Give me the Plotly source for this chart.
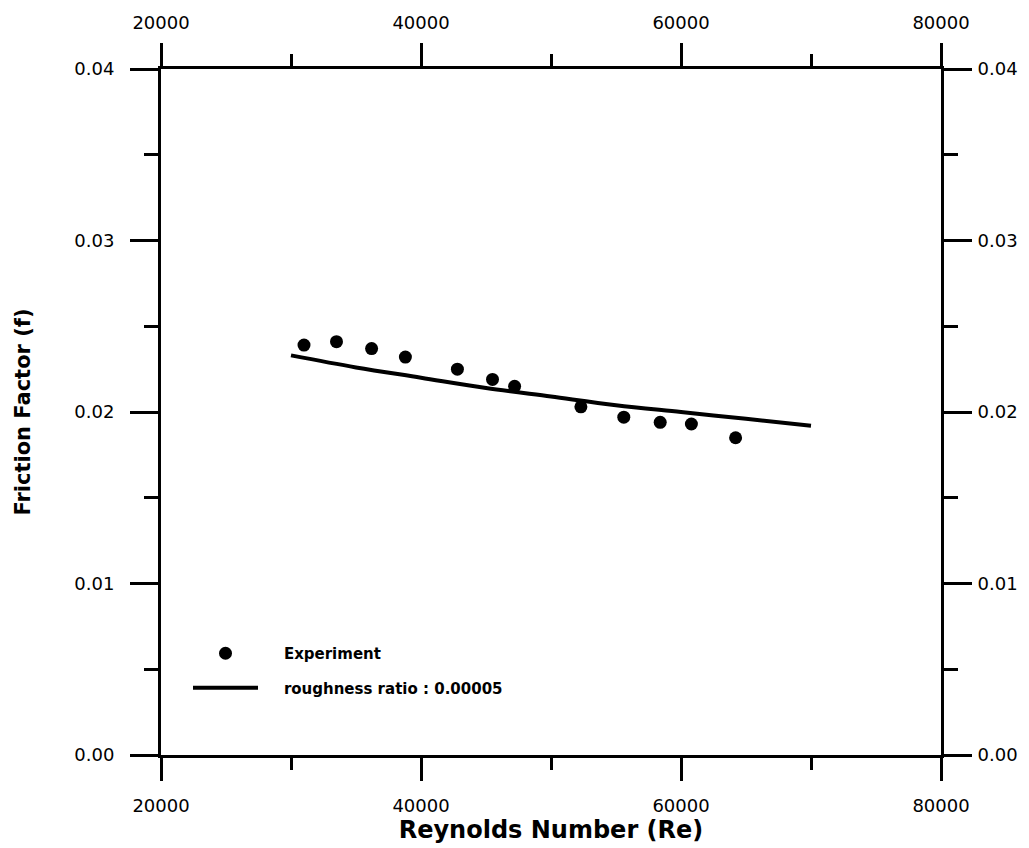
import plotly.graph_objects as go

# Measured friction factors
re_exp = [31000, 33500, 36200, 38800, 42800, 45500, 47200, 52300, 55600, 58400, 60800, 64200]
f_exp = [0.0239, 0.0241, 0.0237, 0.0232, 0.0225, 0.0219, 0.0215, 0.0203, 0.0197, 0.0194, 0.0193, 0.0185]

# Predicted curve for roughness ratio 0.00005
re_fit = [30000, 35000, 40000, 45000, 50000, 55000, 60000, 65000, 70000]
f_fit = [0.0233, 0.0226, 0.0220, 0.0214, 0.0209, 0.0204, 0.0200, 0.0196, 0.0192]

x_range = [20000, 80000]
y_range = [0.0, 0.04]
x_ticks = [20000, 40000, 60000, 80000]
y_ticks = [0.00, 0.01, 0.02, 0.03, 0.04]
y_labels = ["0.00", "0.01", "0.02", "0.03", "0.04"]

tick_font = dict(family="DejaVu Sans", size=18, color="black")
pad = "\u00a0" * 4

fig = go.Figure()
fig.add_trace(go.Scatter(
    x=re_exp, y=f_exp, mode="markers", name=pad + "Experiment",
    marker=dict(size=13, color="black", line=dict(width=0)),
    legendgroup="a",
))
# curve drawn on the mirrored (top/right) axes so both frames are rendered
fig.add_trace(go.Scatter(
    x=re_fit, y=f_fit, mode="lines", name=pad + "roughness ratio : 0.00005",
    line=dict(color="black", width=4, shape="spline"),
    legendgroup="b", xaxis="x2", yaxis="y2",
))

common_x = dict(
    range=x_range, tickvals=x_ticks, ticktext=[str(v) for v in x_ticks],
    showgrid=False, zeroline=False, showline=True, linecolor="black", linewidth=3,
    ticks="outside", ticklen=23, tickwidth=3, tickcolor="black",
    minor=dict(ticks="outside", ticklen=12, tickwidth=3, tickcolor="black", dtick=10000, tick0=0, showgrid=False),
    tickfont=tick_font, ticklabelstandoff=9, automargin=False,
)
common_y = dict(
    range=y_range, tickvals=y_ticks, ticktext=y_labels,
    showgrid=False, zeroline=False, showline=True, linecolor="black", linewidth=3,
    ticks="outside", ticklen=28, tickwidth=3, tickcolor="black",
    minor=dict(ticks="outside", ticklen=14, tickwidth=3, tickcolor="black", dtick=0.005, tick0=0, showgrid=False),
    tickfont=tick_font, ticklabelstandoff=12, automargin=False,
)

fig.update_layout(
    width=1029, height=848,
    margin=dict(l=161, r=88, t=69, b=93),
    paper_bgcolor="white", plot_bgcolor="white",
    xaxis=dict(common_x, title=dict(text="Reynolds Number (Re)", standoff=7,
               font=dict(family="DejaVu Sans", size=24, color="black", weight="bold"))),
    xaxis2=dict(common_x, overlaying="x", side="top", ticklabelstandoff=7),
    yaxis=dict(common_y, title=dict(text="Friction Factor (f)", standoff=38,
               font=dict(family="DejaVu Sans", size=21, color="black", weight="bold"))),
    yaxis2=dict(common_y, overlaying="y", side="right", ticklabelstandoff=2),
    showlegend=True,
    legend=dict(
        x=(188 - 161) / 780, y=(755 - 637) / 686, xanchor="left", yanchor="top",
        bgcolor="rgba(0,0,0,0)", itemwidth=65, traceorder="grouped", tracegroupgap=12,
        font=dict(family="DejaVu Sans", size=15, color="black", weight="bold"),
    ),
)

fig.write_html("out.html")
